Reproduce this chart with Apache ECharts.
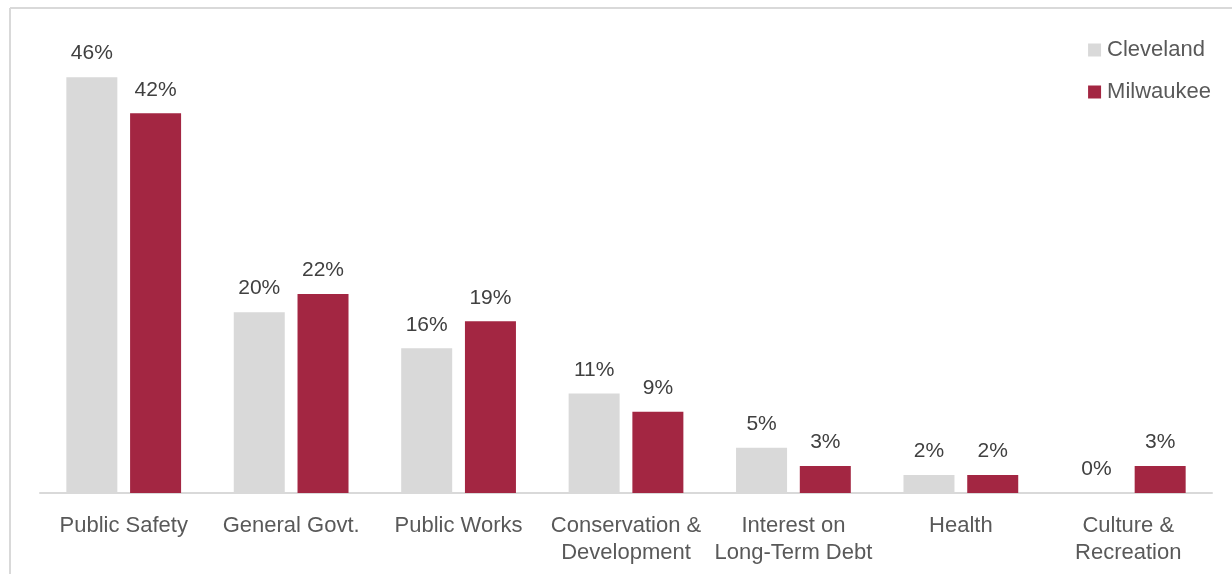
<!DOCTYPE html>
<html>
<head>
<meta charset="utf-8">
<style>
  html, body { margin: 0; padding: 0; background: #ffffff; }
  #chart { width: 1232px; height: 574px; }
</style>
<script src="https://cdn.jsdelivr.net/npm/echarts@6/dist/echarts.min.js"></script>
</head>
<body>
<div id="chart"></div>
<script>
// Share of spending by function, two cities
const categories = ['Public Safety', 'General Govt.', 'Public Works', 'Conservation &\nDevelopment', 'Interest on\nLong-Term Debt', 'Health', 'Culture &\nRecreation'];
const cleveland = [46, 20, 16, 11, 5, 2, 0];
const milwaukee = [42, 22, 19, 9, 3, 2, 3];
const seriesNames = ['Cleveland', 'Milwaukee'];

const FONT = '"Liberation Sans", Arial, sans-serif';
const chart = echarts.init(document.getElementById('chart'), null, { renderer: 'canvas' });

const label = {
  show: true,
  position: 'top',
  distance: 13,
  formatter: p => p.value + '%',
  color: '#404040',
  fontSize: 21,
  fontFamily: FONT
};

chart.setOption({
  animation: false,
  backgroundColor: '#ffffff',
  textStyle: { fontFamily: FONT },
  grid: { left: 40, right: 20, top: 41, bottom: 81, containLabel: false },
  legend: {
    orient: 'vertical',
    right: 16,
    top: 34,
    itemWidth: 13,
    itemHeight: 13,
    itemGap: 20,
    icon: 'rect',
    textStyle: { color: '#595959', fontSize: 22, fontFamily: FONT, padding: [2, 0, 0, 1] },
    data: seriesNames
  },
  xAxis: {
    type: 'category',
    data: categories,
    axisLine: { show: true, lineStyle: { color: '#d9d9d9', width: 2 } },
    axisTick: { show: false },
    axisLabel: { color: '#595959', fontSize: 22, fontFamily: FONT, lineHeight: 27, margin: 19, interval: 0 }
  },
  yAxis: {
    type: 'value',
    min: 0,
    max: 50,
    show: false,
    splitLine: { show: false }
  },
  series: [
    {
      name: seriesNames[0],
      type: 'bar',
      data: cleveland,
      barWidth: 51,
      barGap: '25%',
      itemStyle: { color: '#d9d9d9' },
      label: label
    },
    {
      name: seriesNames[1],
      type: 'bar',
      data: milwaukee,
      barWidth: 51,
      itemStyle: { color: '#a32642' },
      label: label
    }
  ],
  graphic: [
    { type: 'line', shape: { x1: 10, y1: 8, x2: 1232, y2: 8 }, style: { stroke: '#d9d9d9', lineWidth: 2 }, silent: true },
    { type: 'line', shape: { x1: 10, y1: 8, x2: 10, y2: 574 }, style: { stroke: '#d9d9d9', lineWidth: 2 }, silent: true }
  ]
});
</script>
</body>
</html>
